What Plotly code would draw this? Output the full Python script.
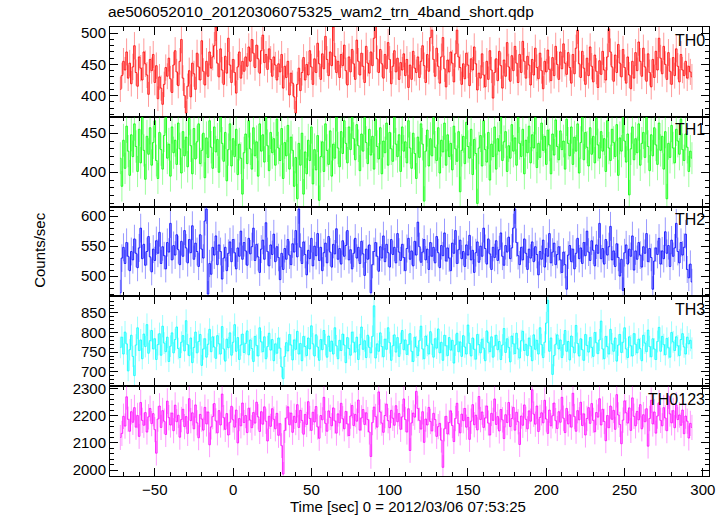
import numpy as np
import plotly.graph_objects as go
from plotly.subplots import make_subplots

TITLE = "ae506052010_20120306075325_wam2_trn_4band_short.qdp"
X_LABEL = "Time [sec] 0 = 2012/03/06 07:53:25"
Y_LABEL = "Counts/sec"
BANDS = ["TH0", "TH1", "TH2", "TH3", "TH0123"]
T_START = -72
T_BIN = 1.0

th0 = [
410,432,455,441,470,428,452,419,446,480,437,415,462,444,425,470,451,433,402,458,
440,466,421,448,395,430,412,386,418,445,431,460,427,405,449,472,438,416,455,490,
428,400,372,415,440,398,452,435,410,468,446,425,488,439,417,455,431,470,444,462,
480,510,452,430,475,441,418,463,436,492,449,421,458,437,404,446,470,428,455,439,
462,447,478,455,490,468,445,481,459,436,472,497,453,466,442,475,458,431,462,449,
425,451,438,466,412,447,429,455,401,436,420,398,372,418,444,408,437,461,425,450,
433,472,446,418,459,437,484,451,426,467,443,495,458,432,470,448,510,463,437,455,
429,466,448,481,440,417,462,438,474,451,426,489,455,433,468,447,421,479,452,436,
470,448,492,515,459,437,474,451,428,466,443,485,458,419,447,472,438,460,426,453,
441,467,432,458,413,449,426,471,444,437,462,429,455,480,448,421,466,439,493,505,
458,431,476,447,420,462,493,443,414,457,438,470,452,422,467,505,462,445,418,451,
427,468,449,416,459,441,478,451,409,436,428,467,433,414,455,426,472,441,396,437,
459,424,471,448,412,457,431,485,446,423,464,440,479,452,421,466,437,487,455,428,
463,449,417,458,433,476,445,427,468,440,411,455,438,473,442,424,461,432,479,450,
426,470,443,483,452,434,469,445,420,466,435,476,505,451,429,471,444,418,460,432,
478,447,422,465,439,413,456,434,471,441,425,462,507,470,446,423,465,437,482,452,
430,474,445,420,462,433,411,455,428,469,440,486,455,431,476,446,423,467,437,414,
458,429,471,441,492,460,435,479,450,426,469,439,418,461,432,475,447,422,466,441,
432,455,428,447,438,430]

th1 = [
418,382,441,405,459,427,396,448,420,462,433,401,455,412,470,428,391,446,423,457,
409,438,466,415,392,451,429,404,447,472,418,436,395,458,425,441,410,463,430,399,
452,421,445,407,469,434,398,456,417,439,462,411,428,450,393,444,419,466,432,405,
458,426,442,400,473,437,414,451,389,429,462,408,443,420,455,397,436,418,372,425,
449,411,466,430,404,457,421,439,395,462,427,448,413,470,434,402,451,425,443,409,
468,431,415,456,392,438,421,460,404,445,428,382,419,366,437,409,450,372,426,398,
441,415,458,385,429,403,447,364,420,439,401,462,428,410,453,395,436,418,474,431,
407,452,424,466,437,412,458,429,475,443,416,461,434,402,449,427,470,438,411,455,
422,446,404,468,433,417,457,398,440,425,463,409,451,430,414,472,436,420,448,401,
458,427,439,412,466,431,405,450,424,392,445,419,462,436,363,427,454,408,443,421,
470,432,415,457,399,441,426,463,409,448,420,437,403,459,430,414,452,375,428,446,
411,464,433,418,455,397,442,424,360,431,447,408,466,429,413,451,390,436,420,458,
404,443,427,471,415,439,452,401,434,418,461,427,444,409,472,437,420,455,398,441,
425,459,412,448,431,470,406,437,419,463,428,446,410,454,435,398,449,422,467,433,
416,453,429,440,404,468,437,421,458,410,445,427,462,399,438,474,416,451,432,408,
457,423,446,412,469,435,418,452,427,443,401,466,431,415,455,438,420,461,396,444,
427,472,440,413,449,371,430,458,416,443,425,462,409,437,451,419,470,433,402,448,
421,457,435,410,463,428,446,404,452,366,437,419,460,431,412,455,440,423,468,429,
415,449,432,401,427,418]

th2 = [
472,530,548,521,556,533,509,541,527,562,538,514,547,580,529,553,518,541,566,532,
507,545,526,559,538,573,521,549,534,512,556,540,588,527,551,535,569,544,519,558,
533,576,547,522,561,539,584,528,555,541,516,569,545,530,592,612,470,521,503,548,
535,567,519,552,541,495,530,548,509,538,557,524,561,539,512,547,533,575,528,556,
542,518,563,537,549,580,526,553,532,506,545,560,528,589,541,517,552,536,570,524,
549,531,494,538,511,546,528,561,535,519,554,540,576,532,612,548,521,557,536,502,
543,529,563,517,550,534,571,526,548,509,539,555,522,566,540,515,553,537,579,528,
546,520,559,533,551,576,527,544,512,538,563,530,548,521,558,537,501,545,528,552,
472,519,541,556,533,508,549,530,567,524,553,539,515,561,536,548,522,571,540,526,
553,531,509,546,563,528,542,517,558,535,590,549,523,540,561,527,545,511,556,533,
548,522,566,539,514,551,534,572,525,547,530,509,555,538,576,521,544,560,529,541,
516,552,535,568,527,543,506,539,557,523,550,533,580,546,520,562,537,511,548,531,
559,526,544,572,533,518,551,540,565,529,547,580,612,556,534,519,548,527,562,538,
511,545,530,557,524,549,536,502,541,528,560,515,546,533,571,522,540,555,519,536,
549,527,506,540,519,478,535,551,524,545,512,538,563,529,547,521,556,534,575,540,
526,559,543,517,552,538,588,529,546,520,561,535,549,583,527,542,516,554,531,500,
528,476,539,552,520,545,533,567,510,542,528,556,535,515,549,538,571,524,546,531,
478,525,547,536,563,520,542,529,574,538,551,516,560,533,547,588,541,522,556,535,
548,570,511,497,520,490]

th3 = [
762,788,745,801,771,702,756,793,739,690,768,812,754,781,733,796,764,820,747,779,
805,758,784,731,769,797,742,816,773,751,788,726,765,799,748,782,814,759,736,775,
792,753,830,769,741,786,723,762,801,748,777,795,716,758,784,737,770,808,751,789,
763,734,792,771,745,815,758,727,783,761,799,742,775,820,752,787,731,768,796,749,
772,804,743,781,759,726,790,767,740,812,776,751,789,733,764,798,755,782,728,771,
747,786,760,712,682,739,774,753,795,768,730,781,757,803,745,772,728,790,764,741,
786,758,817,771,740,794,763,729,782,756,805,769,737,791,752,778,745,812,766,733,
780,754,796,768,723,787,759,742,801,775,750,788,731,769,814,757,779,736,793,762,
748,790,868,735,771,752,799,764,738,783,757,812,774,729,766,794,750,787,739,772,
805,756,781,744,769,797,752,726,788,763,741,779,816,758,733,791,767,745,802,770,
737,784,760,809,748,775,729,793,766,741,787,755,780,722,768,798,751,776,739,792,
763,745,819,772,740,786,757,732,795,769,748,783,760,728,804,774,751,789,737,766,
793,756,777,731,768,810,749,784,762,725,791,771,746,798,758,735,779,803,754,770,
741,786,765,728,794,757,780,745,812,769,736,775,824,882,752,786,693,741,770,794,
758,781,736,769,805,752,777,730,791,763,748,818,772,740,784,756,729,795,767,750,
787,762,739,800,774,746,781,829,758,733,790,764,745,808,771,752,786,727,768,795,
749,775,812,758,736,789,766,740,797,770,748,783,759,728,793,773,751,806,764,738,
784,758,731,777,813,752,790,769,743,785,761,737,800,776,754,789,766,741,782,797,
763,745,788,771,780,760]

th0123 = [
2120,2135,2198,2162,2270,2187,2143,2215,2176,2230,2158,2201,2124,2249,2183,2165,2212,2140,2196,2227,
2171,2208,2149,2062,2188,2236,2157,2219,2180,2131,2254,2193,2166,2210,2145,2239,2178,2202,2121,2186,
2224,2160,2197,2135,2263,2182,2211,2152,2240,2174,2119,2205,2188,2147,2231,2170,2214,2093,2159,2197,
2245,2181,2137,2219,2166,2280,2193,2150,2208,2129,2176,2235,2185,2158,2221,2100,2190,2163,2247,2175,
2201,2138,2228,2184,2156,2212,2173,2250,2196,2142,2215,2169,2233,2180,2107,2198,2161,2226,2187,2152,
2209,2128,2171,2090,1985,2146,2192,2233,2167,2210,2139,2198,2175,2241,2157,2220,2183,2132,2205,2168,
2252,2190,2146,2213,2177,2234,2159,2117,2201,2185,2268,2172,2143,2218,2194,2163,2229,2181,2136,2207,
2174,2246,2189,2152,2216,2170,2127,2199,2238,2164,2205,2180,2258,2147,2192,2223,2168,2211,2186,2140,
2050,2175,2232,2197,2158,2288,2214,2173,2139,2201,2243,2182,2156,2220,2191,2165,2237,2178,2208,2150,
2196,2262,2186,2140,2226,2072,2174,2210,2195,2290,2227,2183,2151,2215,2102,2188,2166,2231,2179,2144,
2209,2186,2124,2160,2172,2110,2010,2152,2198,2133,2175,2218,2164,2105,2190,2246,2171,2137,2206,2182,
2227,2158,2194,2113,2180,2241,2167,2202,2148,2271,2186,2214,2157,2192,2236,2173,2129,2209,2183,2262,
2168,2197,2144,2223,2185,2116,2204,2175,2249,2160,2190,2231,2147,2213,2178,2094,2199,2165,2240,2187,
2152,2218,2180,2296,2206,2169,2236,2142,2194,2211,2174,2257,2188,2135,2221,2163,2200,2247,2182,2153,
2215,2176,2268,2191,2138,2227,2170,2204,2158,2283,2197,2143,2219,2185,2250,2164,2207,2129,2190,2230,
2172,2245,2183,2141,2212,2195,2263,2166,2224,2179,2108,2201,2156,2236,2187,2220,2150,2278,2203,2168,
2097,2184,2255,2211,2173,2229,2146,2266,2198,2163,2216,2185,2241,2152,2204,2178,2226,2088,2190,2257,
2170,2214,2136,2199,2248,2183,2163,2230,2192,2145,2273,2207,2174,2219,2156,2240,2186,2203,2165,2221,
2134,2199,2180,2118,2172,2157]

SERIES = [th0, th1, th2, th3, th0123]
COLORS = ["255,0,0", "0,255,0", "0,0,255", "0,255,255", "255,0,255"]
Y_RANGES = [[366, 510], [356, 471], [466, 616], [663, 892], [1978, 2309]]
Y_DTICK = [50, 50, 50, 50, 100]
Y_MINOR = [10, 10, 10, 10, 20]
X_RANGE = [-78.6, 303.9]

FONT = "Liberation Sans, Arial, Helvetica, sans-serif"

fig = make_subplots(rows=5, cols=1, shared_xaxes=True, vertical_spacing=0)

for i, (vals, col) in enumerate(zip(SERIES, COLORS)):
    v = np.array(vals, dtype=float)
    t = T_START + T_BIN * np.arange(len(v))
    err = np.sqrt(v / T_BIN)
    fig.add_trace(go.Scatter(
        x=t, y=v, mode="lines",
        line=dict(color=f"rgba({col},0.85)", width=1, shape="hvh"),
        error_y=dict(type="data", array=err, visible=True, thickness=1, width=0,
                     color=f"rgba({col},0.4)"),
        hoverinfo="skip", showlegend=False,
    ), row=i + 1, col=1)

axis_common = dict(showline=True, linecolor="black", linewidth=1, mirror="ticks",
                   ticks="inside", tickcolor="black", tickwidth=1, showgrid=False,
                   zeroline=False, tickfont=dict(family=FONT, size=15, color="black"))

for i in range(5):
    fig.update_xaxes(range=X_RANGE, dtick=50, tick0=0, ticklen=8,
                     minor=dict(dtick=10, tick0=0, ticklen=4, ticks="inside", tickcolor="black"),
                     showticklabels=(i == 4), **axis_common, row=i + 1, col=1)
    fig.update_yaxes(range=Y_RANGES[i], dtick=Y_DTICK[i], tick0=0, ticklen=8,
                     minor=dict(dtick=Y_MINOR[i], tick0=0, ticklen=4, ticks="inside", tickcolor="black"),
                     **axis_common, row=i + 1, col=1)
    fig.add_annotation(text=BANDS[i], xref="x domain", yref="y domain",
                       x=0.997, y=0.97, xanchor="right", yanchor="top", showarrow=False,
                       font=dict(family=FONT, size=16, color="black"), row=i + 1, col=1)

fig.add_annotation(text=Y_LABEL, xref="paper", yref="paper", x=-0.119, y=0.503,
                   textangle=-90, showarrow=False, xanchor="center", yanchor="middle",
                   font=dict(family=FONT, size=15, color="black"))
fig.add_annotation(text=X_LABEL, xref="paper", yref="paper", x=0.498, y=-0.069,
                   showarrow=False, xanchor="center", yanchor="middle",
                   font=dict(family=FONT, size=15, color="black"))

fig.update_layout(
    width=727, height=516,
    margin=dict(l=110, r=15, t=27, b=40),
    paper_bgcolor="white", plot_bgcolor="white",
    title=dict(text=TITLE, x=108 / 727, xanchor="left", y=1 - 12 / 516, yanchor="middle",
               font=dict(family=FONT, size=15.5, color="black")),
    font=dict(family=FONT, color="black"),
)

fig.write_html("out.html", config={"displayModeBar": False},
               post_script="document.body.style.margin='0';document.body.style.overflow='hidden';")
